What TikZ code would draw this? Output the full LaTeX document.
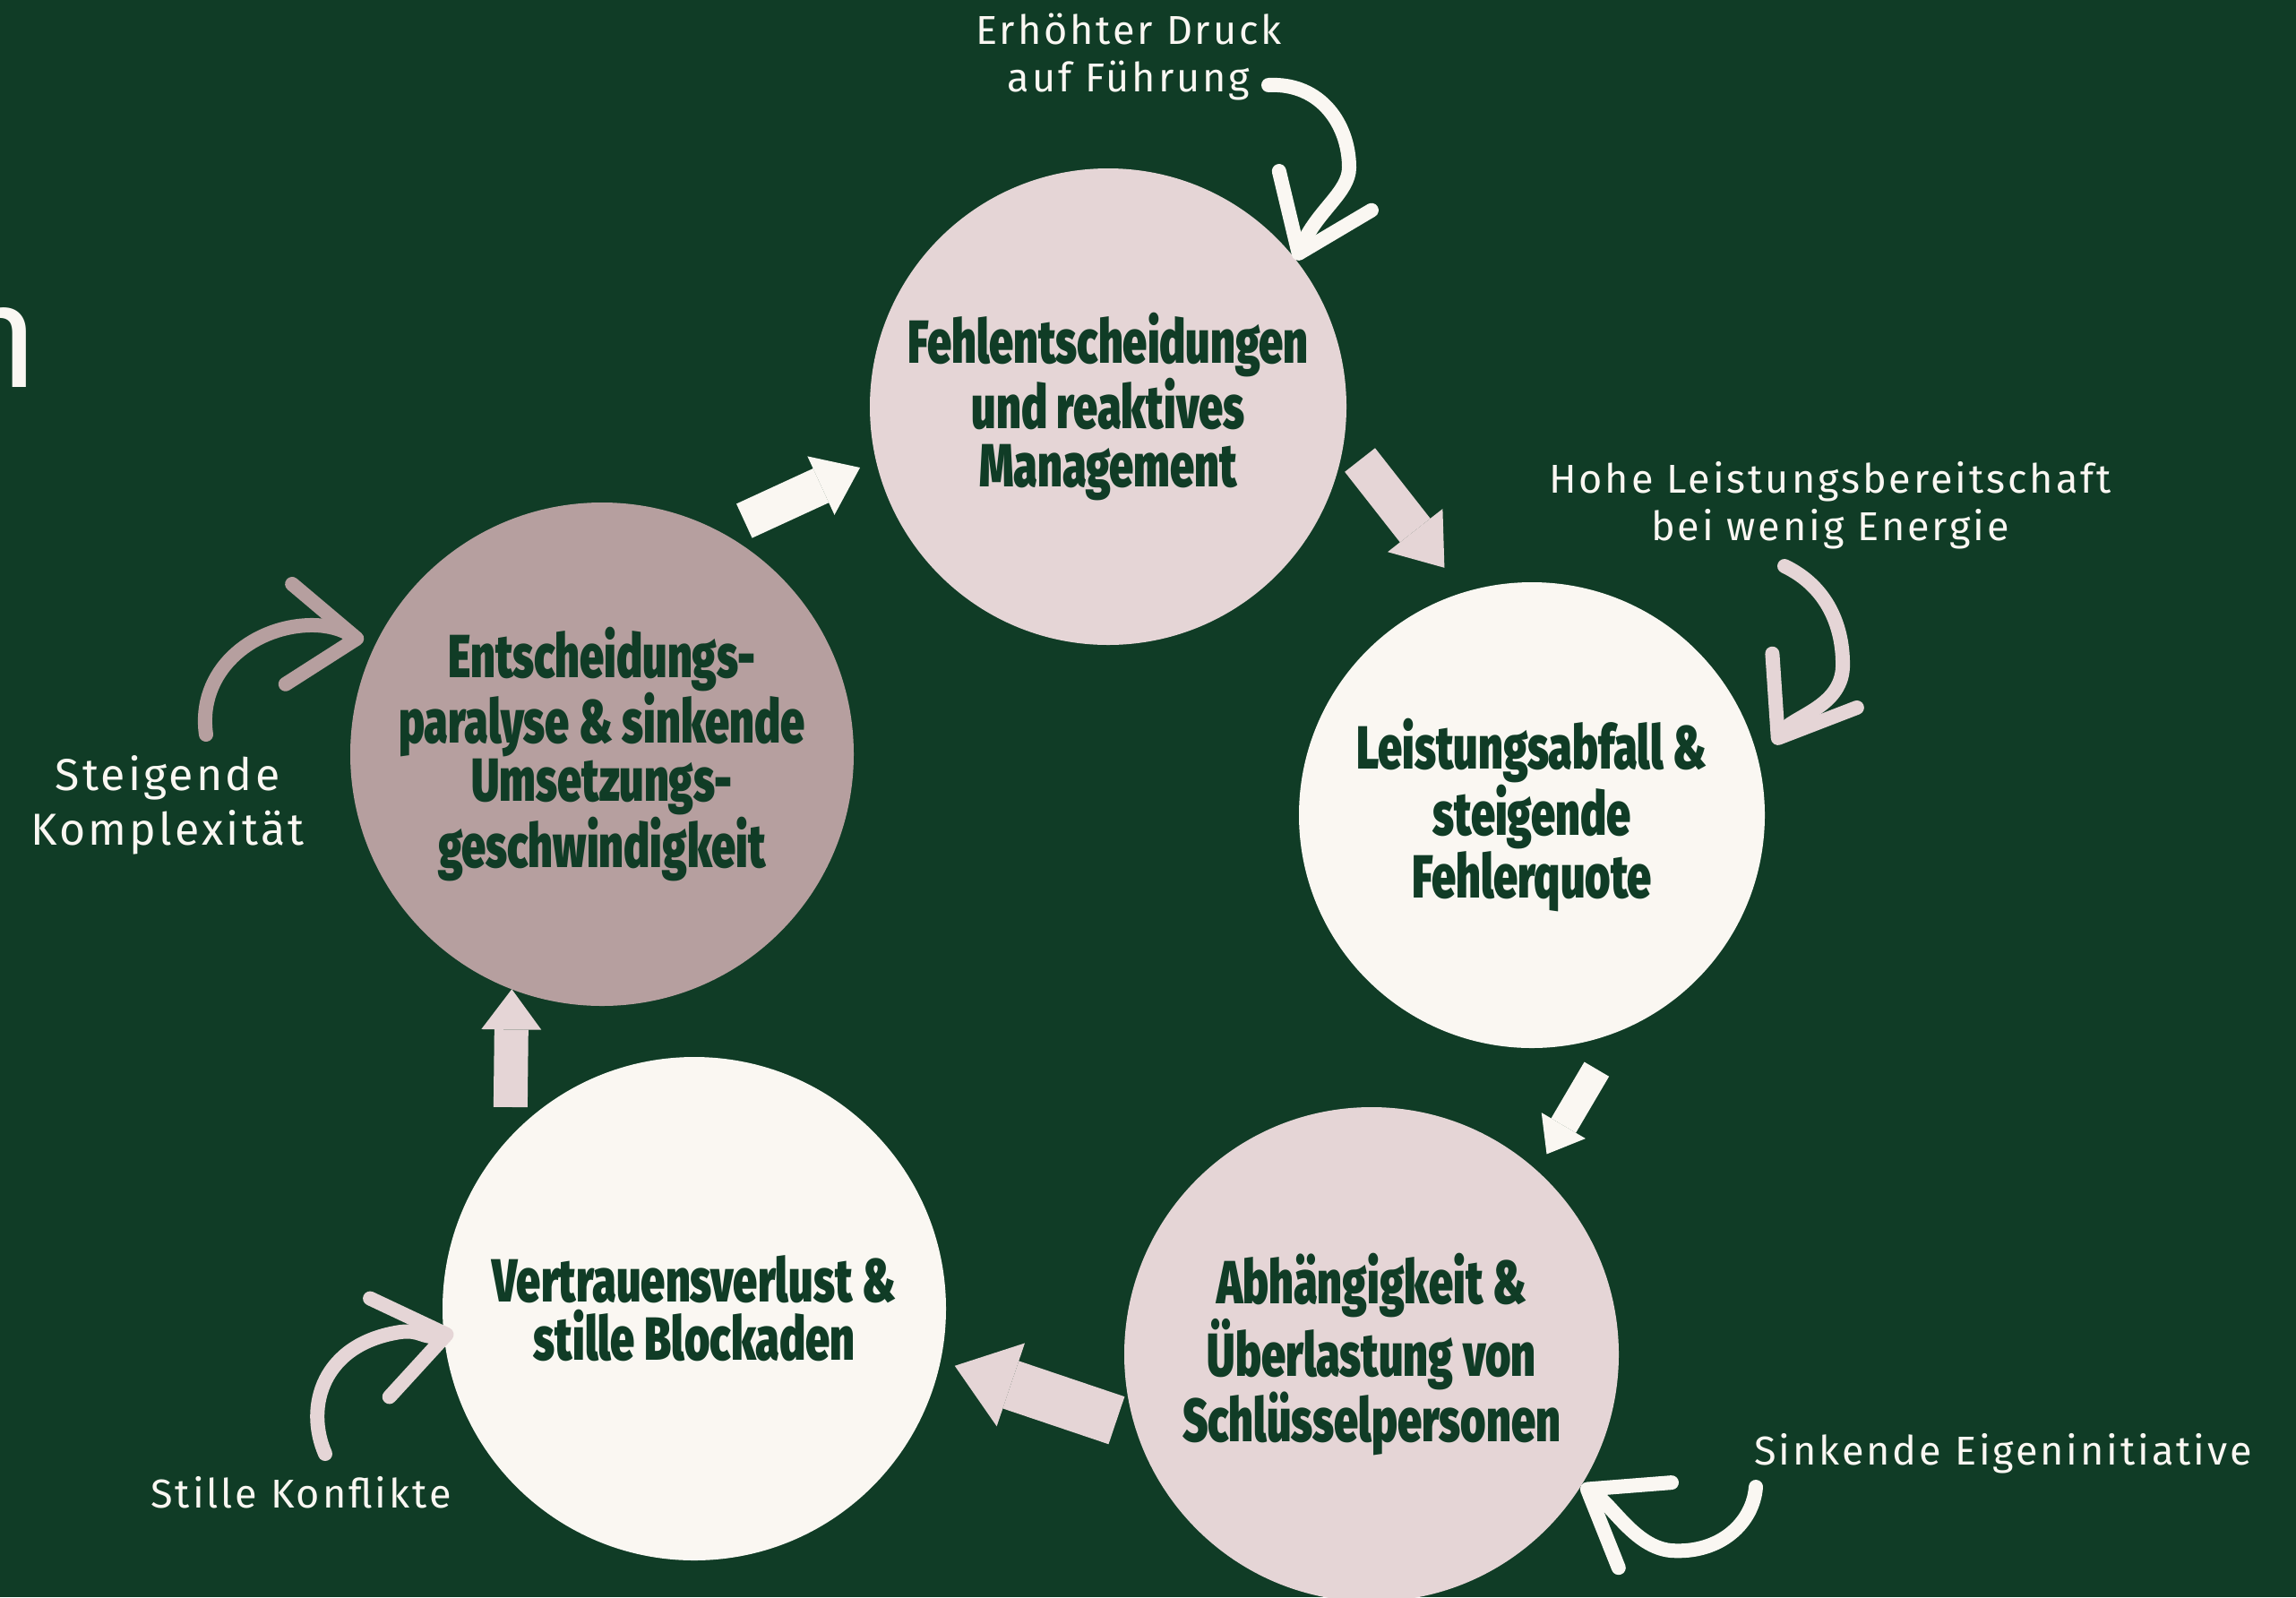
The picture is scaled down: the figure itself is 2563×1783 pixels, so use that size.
\documentclass[tikz,border=0pt]{standalone}
\usepackage{fontspec}
\setmainfont{Fira Sans}
\newfontfamily\labelfont{Fira Sans}[LetterSpace=6.5]
\IfFontExistsTF{Fira Sans Black}
  {\newfontfamily\stagefont{Fira Sans Black}[FakeStretch=0.715]}
  {\newfontfamily\stagefontbase{Fira Sans}[FakeStretch=0.715]
   \newcommand\stagefont{\stagefontbase\bfseries}}
\usetikzlibrary{arrows.meta}

\definecolor{bggreen}{RGB}{16,60,38}
\definecolor{rosepale}{RGB}{229,213,214}
\definecolor{offwhite}{RGB}{250,247,242}
\definecolor{mauve}{RGB}{182,159,159}

\begin{document}
\begin{tikzpicture}[
    x=0.5pt, y=-0.5pt,
    % Styles
    stage/.style={circle, inner sep=0pt, outer sep=0pt, align=center, text=bggreen,
                  font=\stagefont\fontsize{34}{32.5}\selectfont},          % one step of the cycle
    note/.style={align=center, inner sep=0pt, text=offwhite,
                 font=\labelfont\fontsize{22.5}{26.5}\selectfont},         % side remarks
    push/.style n args={3}{line width=#1,
                 -{Triangle[width=#2, length=#3, line width=0pt]}},        % block arrows
    curl/.style={line width=8pt, line cap=round,
                 -{Straight Barb[length=38pt, width=56pt, round]}}         % hand drawn arrows
]

  % Background
  \clip (0,0) rectangle (2563,1783);
  \fill[bggreen] (0,0) rectangle (2563,1783);

  % Cut off title letter
  \node[anchor=base east, inner sep=0pt, text=offwhite,
        font=\fontsize{82.5}{90}\selectfont] (title) at (45,432) {n};

  % Stages
  \node[stage, fill=rosepale, minimum size=266pt] (c1) at (1237,454)
    {Fehlentscheidungen\\und reaktives\\Management};
  \node[stage, fill=offwhite, minimum size=260pt] (c2) at (1710,910)
    {Leistungsabfall \&\\steigende\\Fehlerquote};
  \node[stage, fill=rosepale, minimum size=276pt] (c3) at (1531,1512)
    {Abhängigkeit \&\\Überlastung von\\Schlüsselpersonen};
  \node[stage, fill=offwhite, minimum size=281pt] (c4) at (775,1461)
    {Vertrauensverlust \&\\stille Blockaden};
  \node[stage, fill=mauve, minimum size=281pt] (c5) at (672,842)
    {Entscheidungs-\\paralyse \& sinkende\\Umsetzungs-\\geschwindigkeit};

  % Block arrows between stages
  \foreach \from/\to/\col/\lw/\hw/\hl/\sa/\sb in {
      c5.62/c1.193/offwhite/21/36/24/14.8/9.8,
      c1.352/c2.107/rosepale/21.5/39/26.5/14.3/17.5,
      c2.292/c3.48/offwhite/16/28.5/18.5/24.7/10.7,
      c3.197/c4.348/rosepale/28/49/33/10.9/8.4,
      c4.137/c5.249/rosepale/19/33.5/22.5/16.7/0} {
    \draw[\col, push={\lw pt}{\hw pt}{\hl pt}, shorten <=\sa pt, shorten >=\sb pt]
      (\from) -- (\to);
  }

  % Side remarks
  \node[note] (lblA) at (1260,64) {Erhöhter Druck\\auf Führung};
  \node[note] (lblB) at (2043,564) {Hohe Leistungsbereitschaft\\bei wenig Energie};
  \node[note, font=\labelfont\fontsize{25}{30.5}\selectfont] (lblC) at (187,899)
    {Steigende\\Komplexität};
  \node[note] (lblD) at (336,1666) {Stille Konflikte};
  \node[note] (lblE) at (2236,1623) {Sinkende Eigeninitiative};

  % Hand drawn arrows from the remarks
  \coordinate (tA) at (1416,95);
  \coordinate (tB) at (1992,632);
  \coordinate (tC) at (230,820);
  \coordinate (tD) at (363,1623);
  \coordinate (tE) at (1960,1660);

  \draw[curl, offwhite] (tA) .. controls (1475,92) and (1506,140) .. (1506,187)
    .. controls (1506,215) and (1470,235) .. (c1.38);
  \draw[curl, rosepale, shorten >=15pt] (tB) .. controls (2040,655) and (2058,700) .. (2057,745)
    .. controls (2055,790) and (2000,800) .. (c2.12);
  \draw[curl, mauve, shorten >=7.7pt] (tC) .. controls (220,750) and (280,700) .. (345,698)
    .. controls (380,697) and (400,713) .. (c5.153);
  \draw[curl, rosepale, shorten >=-5.5pt] (tD) .. controls (340,1570) and (360,1500) .. (447,1487)
    .. controls (470,1484) and (472,1495) .. (c4.186);
  \draw[curl, offwhite] (tE) .. controls (1957,1700) and (1920,1735) .. (1865,1731)
    .. controls (1825,1727) and (1800,1680) .. (c3.328);

\end{tikzpicture}
\end{document}
